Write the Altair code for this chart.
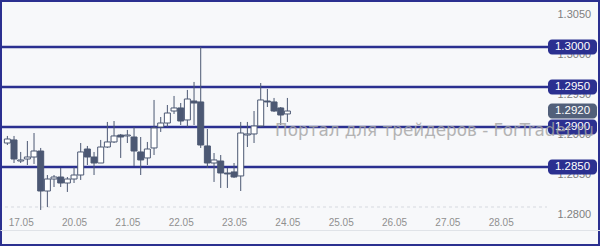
import json
import altair as alt
import pandas as pd

# 3-hour candles
opens = [1.28800, 1.28838, 1.28575, 1.28600, 1.28625, 1.28700, 1.28200, 1.28350, 1.28375, 1.28300,
         1.28350, 1.28400, 1.28725, 1.28625, 1.28550, 1.28750, 1.28813, 1.28900, 1.28888, 1.28875,
         1.28688, 1.28613, 1.28738, 1.29000, 1.29050, 1.29200, 1.29238, 1.29088, 1.29325, 1.29313,
         1.28763, 1.28550, 1.28575, 1.28425, 1.28438, 1.28388, 1.28900, 1.28913, 1.29013, 1.29325,
         1.29313, 1.29238, 1.29163]
highs = [1.28888, 1.28888, 1.28688, 1.28825, 1.28925, 1.28738, 1.28400, 1.28400, 1.28488, 1.28375,
         1.28500, 1.28800, 1.28763, 1.28688, 1.28838, 1.29063, 1.29075, 1.28913, 1.28963, 1.29000,
         1.28875, 1.28813, 1.29338, 1.29125, 1.29275, 1.29388, 1.29300, 1.29463, 1.29563, 1.30000,
         1.28975, 1.28675, 1.28650, 1.28488, 1.28550, 1.29063, 1.29063, 1.29200, 1.29550, 1.29475,
         1.29363, 1.29250, 1.29363]
lows = [1.28775, 1.28550, 1.28550, 1.28525, 1.28538, 1.27963, 1.28000, 1.28250, 1.28250, 1.28188,
        1.28300, 1.28338, 1.28525, 1.28400, 1.28550, 1.28738, 1.28800, 1.28613, 1.28800, 1.28513,
        1.28400, 1.28525, 1.28650, 1.28938, 1.29000, 1.29163, 1.29025, 1.29000, 1.29025, 1.28738,
        1.28488, 1.28313, 1.28238, 1.28238, 1.28363, 1.28200, 1.28750, 1.28800, 1.29000, 1.29250,
        1.29188, 1.29025, 1.29063]
closes = [1.28850, 1.28600, 1.28588, 1.28625, 1.28700, 1.28200, 1.28350, 1.28375, 1.28300, 1.28350,
          1.28400, 1.28688, 1.28625, 1.28550, 1.28750, 1.28813, 1.28888, 1.28875, 1.28900, 1.28700,
          1.28588, 1.28725, 1.28988, 1.29050, 1.29175, 1.29238, 1.29075, 1.29350, 1.29300, 1.28775,
          1.28550, 1.28588, 1.28425, 1.28413, 1.28375, 1.28925, 1.28913, 1.29013, 1.29338, 1.29313,
          1.29200, 1.29150, 1.29200]

day_labels = ["17.05", "20.05", "21.05", "22.05", "23.05", "24.05", "25.05", "26.05", "27.05", "28.05"]
candles_per_day = 8
levels = [1.3000, 1.2950, 1.2900, 1.2850]
current_price = 1.2920
axis_prices = [1.2800, 1.2850, 1.2900, 1.2950, 1.3000, 1.3050]
watermark = "Портал для трейдеров - ForTrader.ru"

NAVY = "#2b3090"
SLATE = "#4c5873"
FONT = "Liberation Sans"

df = pd.DataFrame({
    "k": list(range(len(opens))),
    "open": opens, "high": highs, "low": lows, "close": closes,
})
df["dir"] = ["up" if c >= o else "down" for o, c in zip(opens, closes)]

tick_vals = [2 + candles_per_day * d for d in range(len(day_labels))]
label_expr = json.dumps(day_labels) + "[round((datum.value - 2) / %d)]" % candles_per_day

x_scale = alt.Scale(domain=[-0.354, 88.14], nice=False, zero=False)
y_scale = alt.Scale(domain=[1.275125, 1.305875], nice=False, zero=False)

x_axis = alt.Axis(orient="top", offset=-230, values=tick_vals, labelExpr=label_expr,
                  grid=False, ticks=False, domainColor="#e0e3e8", domainWidth=1,
                  labelColor="#8f8f8f", labelFontSize=10, labelFont=FONT, labelPadding=3,
                  title=None)
y_axis = alt.Axis(orient="right", offset=-52, values=axis_prices, format=".4f",
                  grid=False, ticks=False, domain=False, labelBaseline="top",
                  labelOffset=1, labelAlign="left", labelPadding=9,
                  labelColor="#7f7f7f", labelFontSize=11, labelFont=FONT, title=None)

X = alt.X("k:Q", scale=x_scale, axis=x_axis)

wicks = alt.Chart(df).mark_rule(color=SLATE, strokeWidth=1).encode(
    x=X,
    y=alt.Y("low:Q", scale=y_scale, axis=y_axis),
    y2="high:Q",
)

bodies = alt.Chart(df).mark_bar(size=6, stroke=SLATE, strokeWidth=1).encode(
    x=X,
    y=alt.Y("open:Q", scale=y_scale, axis=y_axis),
    y2="close:Q",
    fill=alt.Fill("dir:N", scale=alt.Scale(domain=["up", "down"], range=["#ffffff", SLATE]), legend=None),
)

grid_df = pd.DataFrame({"price": [axis_prices[0]]})
grid = alt.Chart(grid_df).mark_rule(color="#d6d9df", strokeWidth=1, strokeDash=[3, 3]).encode(
    y=alt.Y("price:Q", scale=y_scale, axis=y_axis),
    x=alt.value(5), x2=alt.value(547),
)

lev_df = pd.DataFrame({"price": levels})
level_lines = alt.Chart(lev_df).mark_rule(color=NAVY, strokeWidth=2.5).encode(
    y=alt.Y("price:Q", scale=y_scale, axis=y_axis),
    x=alt.value(0), x2=alt.value(550),
)

badge_df = pd.DataFrame({
    "price": levels + [current_price],
    "kind": ["level"] * len(levels) + ["current"],
})
badges = alt.Chart(badge_df).transform_calculate(
    lo="datum.price - 0.00095", hi="datum.price + 0.00095"
).mark_rect(cornerRadius=4).encode(
    y=alt.Y("lo:Q", scale=y_scale, axis=y_axis),
    y2="hi:Q",
    x=alt.value(548), x2=alt.value(597),
    color=alt.Color("kind:N", scale=alt.Scale(domain=["level", "current"], range=[NAVY, "#52607a"]), legend=None),
)
badge_text = alt.Chart(badge_df).mark_text(color="white", fontSize=11.5, font=FONT,
                                           align="center", baseline="middle").encode(
    y=alt.Y("price:Q", scale=y_scale, axis=y_axis),
    x=alt.value(572.5),
    text=alt.Text("price:Q", format=".4f"),
)

wm = alt.Chart(pd.DataFrame({"t": [watermark]})).mark_text(
    font="DejaVu Sans", fontSize=16.8, color="#a3a3a3", opacity=0.8,
    align="right", baseline="middle").encode(
    x=alt.value(594), y=alt.value(131), text="t:N")

chart = alt.layer(grid, level_lines, wicks, bodies, badges, badge_text, wm).resolve_scale(
    fill="independent", color="independent"
).properties(
    width=600, height=246,
    autosize=alt.AutoSizeParams(type="none"),
    padding=0,
    background="#f7f8fa",
).configure_view(stroke=NAVY, strokeWidth=4, fill="#f7f8fa")

chart.save("out.html", embed_options={"renderer": "svg", "actions": False})
